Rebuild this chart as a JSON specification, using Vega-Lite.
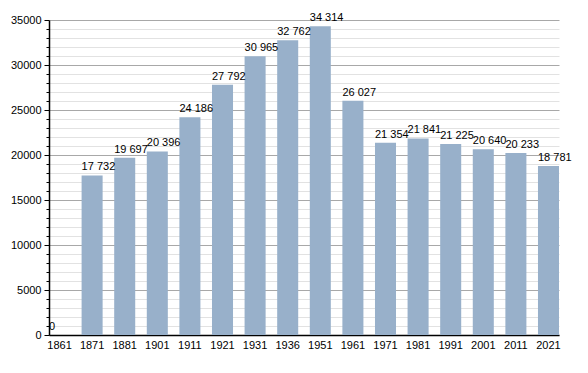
{
  "$schema": "https://vega.github.io/schema/vega-lite/v6.json",
  "width": 510,
  "height": 315,
  "autosize": "none",
  "padding": {"left": 49, "top": 20, "right": 29, "bottom": 38},
  "background": "white",
  "config": {
    "view": {"stroke": null},
    "font": "Liberation Sans",
    "locale": {"number": {"decimal": ".", "thousands": " ", "grouping": [3], "currency": ["", ""]}}
  },
  "data": {
    "values": [
      {"year": "1861", "population": 0},
      {"year": "1871", "population": 17732},
      {"year": "1881", "population": 19697},
      {"year": "1901", "population": 20396},
      {"year": "1911", "population": 24186},
      {"year": "1921", "population": 27792},
      {"year": "1931", "population": 30965},
      {"year": "1936", "population": 32762},
      {"year": "1951", "population": 34314},
      {"year": "1961", "population": 26027},
      {"year": "1971", "population": 21354},
      {"year": "1981", "population": 21841},
      {"year": "1991", "population": 21225},
      {"year": "2001", "population": 20640},
      {"year": "2011", "population": 20233},
      {"year": "2021", "population": 18781}
    ]
  },
  "encoding": {
    "x": {
      "field": "year",
      "type": "ordinal",
      "sort": null,
      "scale": {"paddingInner": 0.355, "paddingOuter": 0},
      "axis": {
        "title": null,
        "labelAngle": 0,
        "ticks": false,
        "labelPadding": 4,
        "labelFontSize": 11,
        "labelColor": "#000",
        "domainColor": "#000",
        "domainWidth": 1.5,
        "grid": false
      }
    },
    "y": {
      "field": "population",
      "type": "quantitative",
      "scale": {"domain": [0, 35000], "nice": false},
      "axis": {
        "title": null,
        "values": [0,1000,2000,3000,4000,5000,6000,7000,8000,9000,10000,11000,12000,13000,14000,15000,16000,17000,18000,19000,20000,21000,22000,23000,24000,25000,26000,27000,28000,29000,30000,31000,32000,33000,34000,35000],
        "format": "d",
        "labelExpr": "datum.value % 5000 === 0 ? datum.label : ''",
        "labelOverlap": false,
        "labelFontSize": 11,
        "labelColor": "#000",
        "labelPadding": 3,
        "domainColor": "#000",
        "domainWidth": 1.5,
        "tickColor": "#000",
        "tickSize": {"condition": {"test": "datum.value % 5000 === 0", "value": 5}, "value": 3},
        "grid": true,
        "gridColor": {"condition": {"test": "datum.value % 5000 === 0", "value": "#a8a8a8"}, "value": "#e2e2e2"},
        "gridWidth": 1
      }
    }
  },
  "layer": [
    {
      "mark": {"type": "bar", "color": "#98B0CA"}
    },
    {
      "mark": {"type": "text", "align": "left", "baseline": "bottom", "dy": -3, "fontSize": 11, "color": "#000"},
      "encoding": {
        "x": {"field": "year", "type": "ordinal", "sort": null, "bandPosition": 0},
        "text": {"field": "population", "type": "quantitative", "format": ",d"}
      }
    }
  ]
}
